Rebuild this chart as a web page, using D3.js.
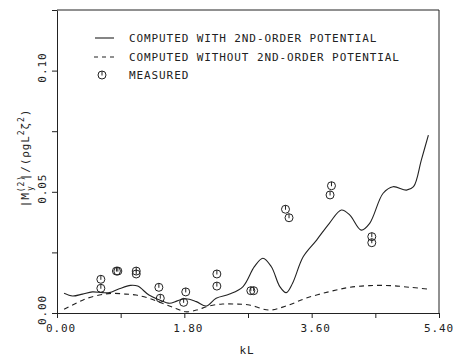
<!DOCTYPE html>
<html>
<head>
<meta charset="utf-8">
<script src="https://cdn.jsdelivr.net/npm/d3@7"></script>
<style>
	body { margin: 0; background: #fff; }
	text { font-family: "DejaVu Sans Mono", monospace; font-size: 11px; fill: #222; letter-spacing: 0.9px; }
</style>
</head>
<body>
<div class="chart"></div>
<script>
// computed with 2nd-order potential
const withK = [0.10, 0.22, 0.36, 0.50, 0.64, 0.74, 0.88, 1.04, 1.14, 1.30, 1.45, 1.59, 1.70, 1.82, 1.97, 2.11, 2.25, 2.44, 2.63, 2.79, 2.91, 3.03, 3.15, 3.24, 3.33, 3.48, 3.67, 3.85, 4.02, 4.14, 4.30, 4.42, 4.61, 4.75, 4.94, 5.04, 5.15, 5.25];
const withM = [0.0081, 0.0070, 0.0078, 0.0087, 0.0084, 0.0084, 0.0100, 0.0114, 0.0111, 0.0074, 0.0054, 0.0040, 0.0050, 0.0059, 0.0047, 0.0029, 0.0061, 0.0078, 0.0109, 0.0191, 0.0226, 0.0191, 0.0109, 0.0084, 0.0123, 0.0232, 0.0301, 0.0370, 0.0425, 0.0404, 0.0342, 0.0370, 0.0494, 0.0521, 0.0507, 0.0521, 0.0631, 0.0734];

// computed without 2nd-order potential
const withoutK = [0.10, 0.27, 0.41, 0.60, 0.78, 0.97, 1.12, 1.30, 1.49, 1.68, 1.82, 1.97, 2.15, 2.34, 2.53, 2.72, 3.00, 3.24, 3.52, 3.85, 4.14, 4.42, 4.71, 4.99, 5.27];
const withoutM = [0.0015, 0.0040, 0.0059, 0.0074, 0.0081, 0.0078, 0.0074, 0.0061, 0.0040, 0.0019, 0.0005, 0.0012, 0.0029, 0.0037, 0.0037, 0.0033, 0.0012, 0.0029, 0.0061, 0.0088, 0.0106, 0.0113, 0.0113, 0.0106, 0.0098];

// measured
const measK = [0.62, 0.62, 0.84, 0.86, 1.12, 1.12, 1.44, 1.46, 1.82, 1.79, 2.26, 2.26, 2.74, 2.78, 3.23, 3.28, 3.88, 3.86, 4.45, 4.45];
const measM = [0.0139, 0.0102, 0.0173, 0.0173, 0.0173, 0.0161, 0.0106, 0.0061, 0.0087, 0.0044, 0.0161, 0.0111, 0.0092, 0.0092, 0.0428, 0.0393, 0.0525, 0.0487, 0.0315, 0.0290];

const xTicks = [0, 0.9, 1.8, 2.7, 3.6, 4.5, 5.4];
const xLabels = ["0.00", "1.80", "3.60", "5.40"];
const yTicks = [0, 0.025, 0.05, 0.075, 0.1, 0.125];
const yLabels = ["0.00", "0.05", "0.10"];
const legendLabels = ["COMPUTED WITH 2ND-ORDER POTENTIAL", "COMPUTED WITHOUT 2ND-ORDER POTENTIAL", "MEASURED"];

let width = 456, height = 356;
const ink = "#222";

let svg = d3.select(".chart")
	.append("svg")
	.attr("width", width)
	.attr("height", height);

let x = d3.scaleLinear().domain([0, 5.4]).range([57, 439]);
let y = d3.scaleLinear().domain([0, 0.125]).range([313, 10]);

// frame
svg.append("path")
	.attr("d", `M${x(0)},${y(0.125)}H${x(5.4)}V${y(0)}`)
	.attr("fill", "none").attr("stroke", ink).attr("stroke-width", 1);

svg.append("g")
	.attr("transform", `translate(0,${y(0)})`)
	.call(d3.axisBottom(x).tickValues(xTicks).tickSize(5).tickSizeOuter(0).tickFormat(""));
svg.append("g")
	.attr("transform", `translate(${x(0)},0)`)
	.call(d3.axisLeft(y).tickValues(yTicks).tickSize(5).tickSizeOuter(0).tickFormat(""));
svg.selectAll(".domain, .tick line").attr("stroke", ink);

// tick labels (last one pulled in so it stays on the page)
svg.selectAll(".xlab")
	.data(xLabels)
	.enter().append("text")
	.attr("x", (d, i) => i == xLabels.length - 1 ? 454 : x(+d) + 4)
	.attr("y", 332)
	.attr("text-anchor", (d, i) => i == xLabels.length - 1 ? "end" : "middle")
	.text(d => d);

svg.selectAll(".ylab")
	.data(yLabels)
	.enter().append("text")
	.attr("transform", d => `translate(46,${y(+d) - 3}) rotate(-90)`)
	.attr("text-anchor", "middle")
	.text(d => d);

svg.append("text")
	.attr("x", 247)
	.attr("y", 354)
	.attr("text-anchor", "middle")
	.attr("font-size", 12)
	.attr("letter-spacing", 3)
	.text("kL");

// y axis title
let yt = svg.append("text")
	.attr("transform", "translate(29,158) rotate(-90)")
	.attr("text-anchor", "middle");
yt.append("tspan").text("|M");
yt.append("tspan").attr("dy", -5).attr("font-size", 8).text("(2)");
yt.append("tspan").attr("dx", -16).attr("dy", 9).attr("font-size", 8).text("y");
yt.append("tspan").attr("dx", 5).attr("dy", -4).text("|/(ρgL");
yt.append("tspan").attr("dy", -5).attr("font-size", 8).text("2");
yt.append("tspan").attr("dy", 5).text("ζ");
yt.append("tspan").attr("dy", -5).attr("font-size", 8).text("2");
yt.append("tspan").attr("dy", 5).text(")");

// curves
let line = d3.line()
	.x(d => x(d[0]))
	.y(d => y(d[1]))
	.curve(d3.curveCatmullRom.alpha(0.5));

svg.append("path")
	.attr("d", line(d3.zip(withK, withM)))
	.attr("fill", "none").attr("stroke", ink).attr("stroke-width", 1.1);

svg.append("path")
	.attr("d", line(d3.zip(withoutK, withoutM)))
	.attr("fill", "none").attr("stroke", ink).attr("stroke-width", 1.1)
	.attr("stroke-dasharray", "5,4");

// measured markers
function marker(g) {
	g.append("circle").attr("r", 4).attr("fill", "none").attr("stroke", ink).attr("stroke-width", 1);
	g.append("line").attr("x1", 0).attr("x2", 0).attr("y1", -4).attr("y2", 0.5).attr("stroke", ink).attr("stroke-width", 1);
}

svg.selectAll(".meas")
	.data(d3.zip(measK, measM))
	.enter().append("g")
	.attr("class", "meas")
	.attr("transform", d => `translate(${x(d[0])},${y(d[1])})`)
	.each(function () { marker(d3.select(this)); });

// legend
let legend = svg.append("g");
legend.append("line").attr("x1", 95).attr("x2", 114).attr("y1", 38).attr("y2", 38)
	.attr("stroke", ink).attr("stroke-width", 1.1);
legend.append("line").attr("x1", 94).attr("x2", 115).attr("y1", 57).attr("y2", 57)
	.attr("stroke", ink).attr("stroke-width", 1.1).attr("stroke-dasharray", "4,4");
legend.append("g").attr("transform", "translate(102,75)").call(marker);
legend.selectAll(".leg")
	.data(legendLabels)
	.enter().append("text")
	.attr("x", 129)
	.attr("y", (d, i) => [42, 61, 79][i])
	.text(d => d);
</script>
</body>
</html>
